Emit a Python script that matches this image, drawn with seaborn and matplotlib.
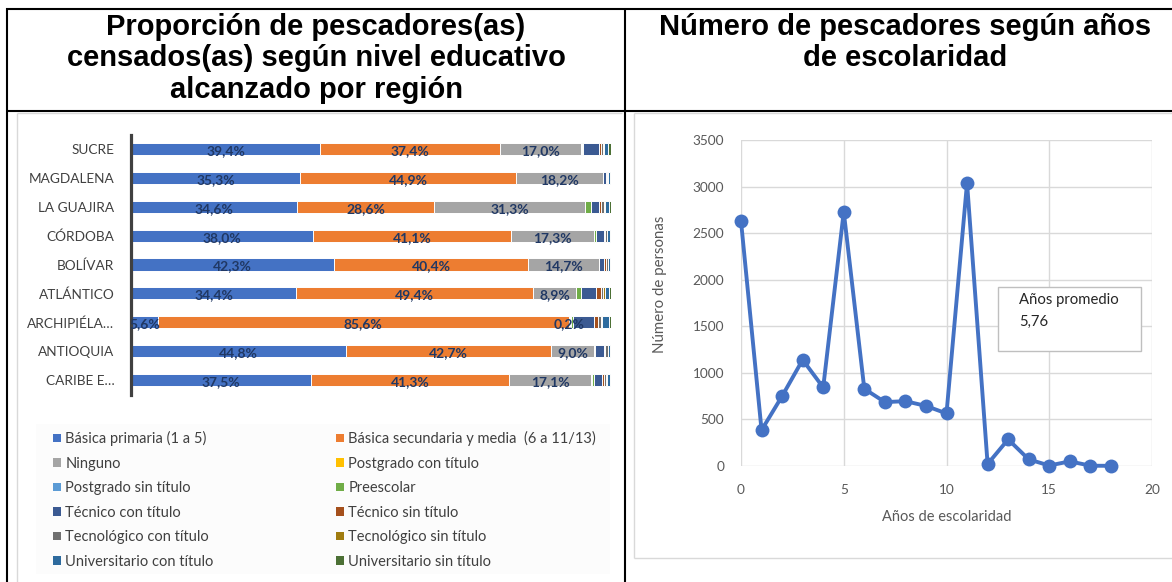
import numpy as np
import pandas as pd
import matplotlib
matplotlib.use("Agg")
import matplotlib.pyplot as plt
from matplotlib.lines import Line2D
from matplotlib.patches import Patch, Rectangle
import seaborn as sns

# ---- data: education level share by region (%) ----
regions = ["SUCRE", "MAGDALENA", "LA GUAJIRA", "CÓRDOBA", "BOLÍVAR",
           "ATLÁNTICO", "ARCHIPIÉLA…", "ANTIOQUIA", "CARIBE E…"]
levels = ["Básica primaria (1 a 5)", "Básica secundaria y media  (6 a 11/13)",
          "Ninguno", "Postgrado con título", "Postgrado sin título", "Preescolar",
          "Técnico con título", "Técnico sin título", "Tecnológico con título",
          "Tecnológico sin título", "Universitario con título", "Universitario sin título"]
primaria    = [39.4, 35.3, 34.6, 38.0, 42.3, 34.4, 5.6, 44.8, 37.5]
secundaria  = [37.4, 44.9, 28.6, 41.1, 40.4, 49.4, 85.6, 42.7, 41.3]
ninguno     = [17.0, 18.2, 31.3, 17.3, 14.7, 8.9, 0.2, 9.0, 17.1]
postg_con   = [0.0, 0.0, 0.0, 0.0, 0.0, 0.0, 0.0, 0.0, 0.0]
postg_sin   = [0.1, 0.0, 0.1, 0.0, 0.0, 0.1, 0.3, 0.0, 0.1]
preescolar  = [0.3, 0.0, 1.3, 0.4, 0.2, 1.0, 0.3, 0.2, 0.4]
tecnico_con = [3.3, 0.5, 1.7, 1.7, 1.0, 3.0, 4.4, 1.8, 1.8]
tecnico_sin = [0.4, 0.3, 0.3, 0.3, 0.4, 1.1, 0.8, 0.3, 0.3]
tecnol_con  = [0.4, 0.2, 0.6, 0.4, 0.3, 0.4, 0.8, 0.6, 0.5]
tecnol_sin  = [0.2, 0.0, 0.2, 0.0, 0.0, 0.4, 0.2, 0.0, 0.1]
univ_con    = [0.8, 0.4, 0.8, 0.5, 0.5, 0.8, 1.3, 0.4, 0.6]
univ_sin    = [0.7, 0.2, 0.5, 0.3, 0.2, 0.5, 0.5, 0.2, 0.3]

# ---- data: fishers by years of schooling ----
years  = [0, 1, 2, 3, 4, 5, 6, 7, 8, 9, 10, 11, 12, 13, 14, 15, 16, 17, 18]
counts = [2630, 385, 750, 1140, 843, 2730, 829, 686, 696, 645, 564, 3040,
          21, 286, 71, 5, 50, 3, 2]
mean_years = "5,76"

colors = ["#4472C4", "#ED7D31", "#A5A5A5", "#FFC000", "#5B9BD5", "#70AD47",
          "#3B5A92", "#A5501C", "#707070", "#A07C10", "#2E6B9E", "#4C7035"]

title_left = ["Proporción de pescadores(as)", "censados(as) según nivel educativo",
              "alcanzado por región"]
title_right = ["Número de pescadores según años", "de escolaridad"]

# ---- figure ----
sns.set_theme(style="white")
plt.rcParams["font.family"] = ["Lato", "DejaVu Sans"]
W, H = 1172, 582
fig = plt.figure(figsize=(W / 100, H / 100), dpi=100)
fig.patch.set_facecolor("white")


def box(x0, y0, x1, y1):
    return [x0 / W, 1 - y1 / H, (x1 - x0) / W, (y1 - y0) / H]


def fline(xs, ys, color="black", lw=1.5):
    fig.add_artist(Line2D([x / W for x in xs], [1 - y / H for y in ys],
                          transform=fig.transFigure, color=color, lw=lw,
                          solid_capstyle="butt"))


# table frame
fline([6, 1172], [8.5, 8.5])
fline([7, 7], [8, 582])
fline([625, 625], [8, 582])
fline([7, 1172], [110.8, 110.8])
# inner picture frames
grey = "#D9D9D9"
fline([17, 17], [113, 582], grey, 1.0)
fline([17, 622], [113, 113], grey, 1.0)
fline([634, 634], [113, 558], grey, 1.0)
fline([634, 1172], [113, 113], grey, 1.0)
fline([634, 1172], [558, 558], grey, 1.0)
fig.add_artist(Rectangle((36 / W, 1 - 574 / H), (610 - 36) / W, (574 - 424) / H,
                         transform=fig.transFigure, facecolor="#FCFCFC",
                         edgecolor="none", zorder=0))

# header titles
for i, line in enumerate(title_left):
    fig.text(316 / W, 1 - (27 + 31.5 * i) / H, line, ha="center", va="center",
             fontsize=21, fontweight="bold", family="Liberation Sans", color="black")
for i, line in enumerate(title_right):
    fig.text(905 / W, 1 - (27 + 31.5 * i) / H, line, ha="center", va="center",
             fontsize=21, fontweight="bold", family="Liberation Sans", color="black")

# ---- stacked horizontal bars ----
ax1 = fig.add_axes(box(131, 134.5, 611, 394.5))
series = [primaria, secundaria, ninguno, postg_con, postg_sin, preescolar,
          tecnico_con, tecnico_sin, tecnol_con, tecnol_sin, univ_con, univ_sin]
vals = np.array(series, dtype=float).T          # regions x levels
cum = np.cumsum(vals, axis=1)
for k in range(len(levels) - 1, -1, -1):
    df = pd.DataFrame({"region": regions, "end": cum[:, k]})
    sns.barplot(data=df, x="end", y="region", color=colors[k], width=0.42,
                edgecolor="white", linewidth=0.7, saturation=1, ax=ax1)

for i in range(len(regions)):
    for k in range(3):
        v = vals[i, k]
        start = cum[i, k] - v
        ax1.text(start + v / 2, i + 0.07, f"{v:.1f}".replace(".", ",") + "%",
                 ha="center", va="center", fontsize=10, fontweight="bold",
                 color="#203864")

ax1.set_xlim(0, 100)
ax1.set_ylim(len(regions) - 0.5, -0.5)
ax1.set_xlabel("")
ax1.set_ylabel("")
ax1.set_xticks([])
for s in ["top", "right", "bottom"]:
    ax1.spines[s].set_visible(False)
ax1.spines["left"].set_color("#404040")
ax1.spines["left"].set_linewidth(2.3)
ax1.tick_params(axis="y", length=0, pad=12, labelsize=9.8, labelcolor="#404040")
ax1.set_facecolor("none")

# legend in Excel's row-wise order, split over two columns
handles = [Patch(facecolor=c, edgecolor="none") for c in colors]
leg_kw = dict(loc="upper left", frameon=False, fontsize=10.5, labelcolor="#404040",
              handlelength=0.55, handleheight=0.55, handletextpad=0.3,
              labelspacing=0.72, borderpad=0, borderaxespad=0)
leg1 = fig.legend([handles[i] for i in range(0, 12, 2)],
                  [levels[i] for i in range(0, 12, 2)],
                  bbox_to_anchor=(53 / W, 1 - 431 / H), **leg_kw)
leg2 = fig.legend([handles[i] for i in range(1, 12, 2)],
                  [levels[i] for i in range(1, 12, 2)],
                  bbox_to_anchor=(336 / W, 1 - 431 / H), **leg_kw)

# ---- line chart ----
ax2 = fig.add_axes(box(741, 140, 1152, 466))
sns.lineplot(x=years, y=counts, ax=ax2, color="#4472C4", linewidth=2.8,
             marker="o", markersize=10, markeredgewidth=0, clip_on=False,
             zorder=3)
ax2.set_xlim(0, 20)
ax2.set_ylim(0, 3500)
ax2.set_xticks(range(0, 21, 5))
ax2.set_yticks(range(0, 3501, 500))
ax2.grid(True, color="#D9D9D9", linewidth=1.0)
ax2.set_axisbelow(True)
for s in ax2.spines.values():
    s.set_visible(False)
ax2.tick_params(length=0, labelsize=9.8, labelcolor="#595959")
ax2.tick_params(axis="y", pad=12)
ax2.tick_params(axis="x", pad=13)
ax2.set_xlabel("Años de escolaridad", fontsize=10.5, color="#595959")
ax2.set_ylabel("Número de personas", fontsize=10.8, color="#595959")
ax2.xaxis.set_label_coords(0.5, -51 / 326, transform=ax2.transAxes)
ax2.yaxis.set_label_coords(-81 / 411, (466 - 284) / 326, transform=ax2.transAxes)
ax2.xaxis.label.set_va("center")
ax2.yaxis.label.set_va("center")

ax2.add_patch(Rectangle((0.625, 0.353), 0.348, 0.196, transform=ax2.transAxes,
                        facecolor="white", edgecolor="#BFBFBF", lw=1.0, zorder=4))
ax2.text(0.676, 0.509, "Años promedio", transform=ax2.transAxes, ha="left",
         va="center", fontsize=10.7, color="#262626", zorder=5)
ax2.text(0.676, 0.442, mean_years, transform=ax2.transAxes, ha="left",
         va="center", fontsize=10.7, color="#262626", zorder=5)

fig.savefig("out.png", dpi=100, facecolor="white")
